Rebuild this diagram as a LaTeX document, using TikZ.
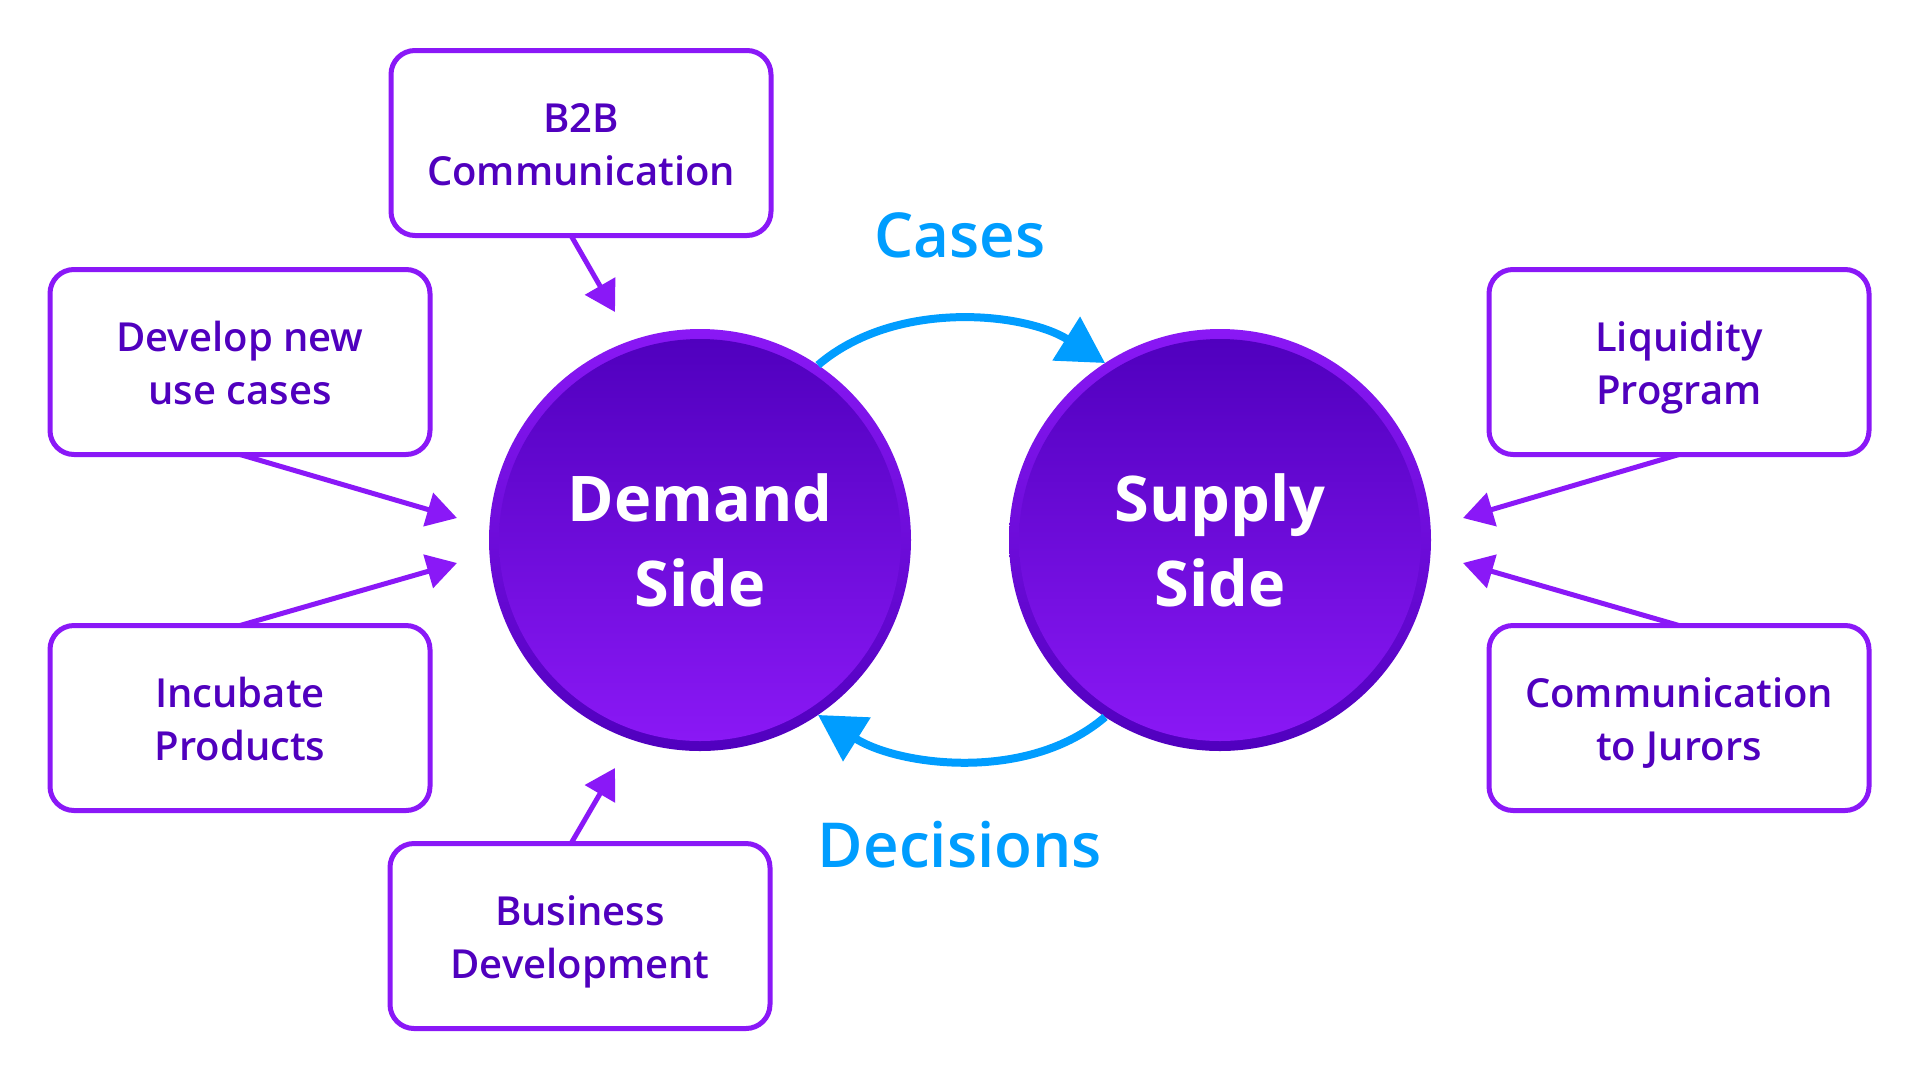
\documentclass[tikz,border=0pt]{standalone}
\usepackage{fontspec}
\setmainfont{Open Sans}
\IfFontExistsTF{Open Sans SemiBold}{\newfontfamily\boxfont{Open Sans SemiBold}}{%
  \IfFontExistsTF{Open Sans Semibold}{\newfontfamily\boxfont{Open Sans Semibold}}{\def\boxfont{\bfseries}}}
\usetikzlibrary{arrows.meta}
\definecolor{boxc}{RGB}{138,24,247}
\definecolor{txtc}{RGB}{80,0,190}
\definecolor{bluec}{RGB}{0,157,255}
\definecolor{lightp}{RGB}{138,24,245}
\definecolor{darkp}{RGB}{80,0,190}
\newcommand{\bxs}{\rule[-11pt]{0pt}{53pt}}
\begin{document}
\begin{tikzpicture}[x=1pt,y=-1pt,
  infobox/.style={draw=boxc, line width=5pt, rounded corners=24pt, minimum width=380pt,
    minimum height=185pt, align=center, text=txtc, inner sep=0pt, outer sep=0pt,
    font=\boxfont\fontsize{40}{53}\selectfont},
  ringdisk/.style={circle, minimum size=422pt, inner sep=0pt, outer sep=0pt,
    top color=lightp, bottom color=darkp},
  innerdisk/.style={circle, minimum size=402pt, inner sep=0pt, outer sep=0pt,
    top color=darkp, bottom color=lightp, text=white, align=center,
    font=\bfseries\fontsize{63}{85}\selectfont},
  flowlabel/.style={text=bluec, anchor=base, font=\boxfont\fontsize{62}{72}\selectfont},
  parrow/.style={draw=boxc, line width=5pt, -{Triangle[length=30pt,width=34pt]}},
  barrow/.style={draw=bluec, line width=8pt, -{Triangle[length=46pt,width=50pt]}}]
\useasboundingbox (0,0) rectangle (1920,1080);

% boxes
\node[infobox] (b2b) at (581,143) {\bxs B2B\\\bxs Communication};
\node[infobox] (dev) at (240,362) {\bxs Develop new\\\bxs use cases};
\node[infobox] (inc) at (240,718) {\bxs Incubate\\\bxs Products};
\node[infobox] (bus) at (580,936) {\bxs Business\\\bxs Development};
\node[infobox] (liq) at (1679,362) {\bxs Liquidity\\\bxs Program};
\node[infobox] (jur) at (1679,718) {\bxs Communication\\\bxs to Jurors};

% circles
\node[ringdisk] (dem) at (700,540) {};
\node[innerdisk] (demin) at (dem) {Demand\\Side};
\node[ringdisk] (sup) at (1220,540) {};
\node[innerdisk] (supin) at (sup) {Supply\\Side};

% flow labels
\node[flowlabel] (cases) at (960,257) {Cases};
\node[flowlabel] (decis) at (960,867) {Decisions};

% tip coordinates
\coordinate (t1) at (615,312);
\coordinate (t2) at (457,518);
\coordinate (t3) at (457,563);
\coordinate (t4) at (615,768);
\coordinate (t5) at (1463,518);
\coordinate (t6) at (1463,563);

% purple arrows
\draw[parrow] ([xshift=-10pt]b2b.south) -- (t1);
\draw[parrow] (dev.south) -- (t2);
\draw[parrow] (inc.north) -- (t3);
\draw[parrow] ([xshift=-9pt]bus.north) -- (t4);
\draw[parrow] (liq.south) -- (t5);
\draw[parrow] (jur.north) -- (t6);

% blue flows
\draw[barrow] (dem.56.5) .. controls +(77,-66) and +(-81,-51) .. (sup.123.5);
\draw[barrow] (sup.-123.5) .. controls +(-77,66) and +(81,51) .. (dem.-56.5);
\end{tikzpicture}
\end{document}
